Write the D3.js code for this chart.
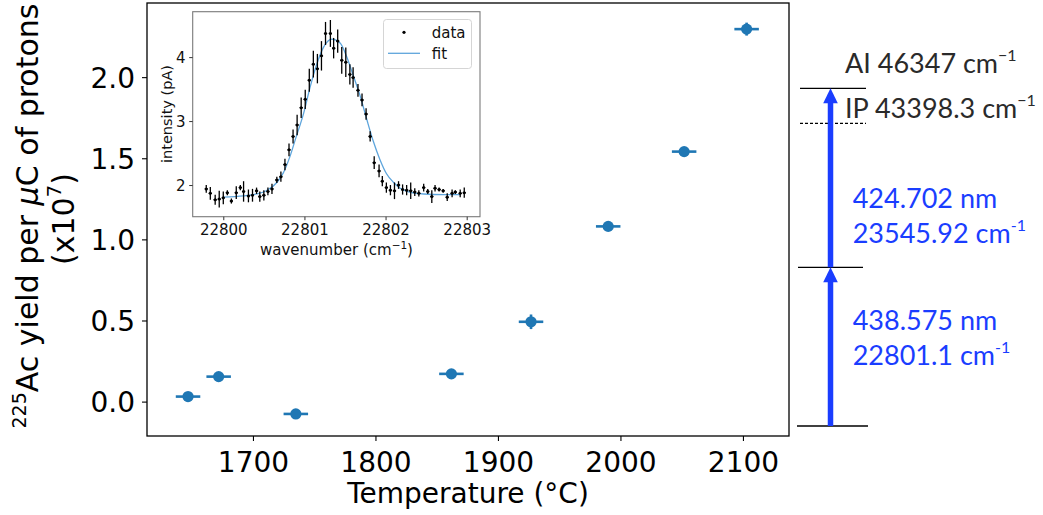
<!DOCTYPE html>
<html><head><meta charset="utf-8">
<script src="https://cdn.jsdelivr.net/npm/d3@7"></script>
<style>body{margin:0;background:#fff} svg{display:block}</style>
</head><body><svg id="c" width="1043" height="515"></svg>
<script>
// ---------- main plot data ----------
const tempC     = [1647, 1672, 1735, 1862, 1927, 1990, 2052, 2103];
const yieldVal  = [0.031, 0.154, -0.076, 0.171, 0.492, 1.080, 1.541, 2.296];
const tempErr   = [10, 10, 10, 10, 10, 10, 10, 10];
const yieldErr  = [0.01, 0.01, 0.01, 0.015, 0.045, 0.02, 0.02, 0.04];
const xTicks = [1700, 1800, 1900, 2000, 2100];
const yTicks = [0.0, 0.5, 1.0, 1.5, 2.0];

// ---------- inset data ----------
const wnData  = [22799.79,22799.84,22799.90,22799.95,22800.00,22800.05,22800.10,22800.16,22800.21,22800.25,
                 22800.31,22800.36,22800.41,22800.45,22800.50,22800.55,22800.60,22800.66,22800.71,22800.76,
                 22800.81,22800.86,22800.91,22800.96,22801.01,22801.06,22801.11,22801.16,22801.21,22801.26,
                 22801.32,22801.36,22801.41,22801.46,22801.51,22801.56,22801.60,22801.66,22801.71,22801.76,
                 22801.81,22801.86,22801.92,22801.96,22802.01,22802.06,22802.11,22802.16,22802.21,22802.26,
                 22802.31,22802.36,22802.41,22802.47,22802.52,22802.57,22802.61,22802.66,22802.71,22802.76,
                 22802.82,22802.86,22802.92,22802.97];
const intData = [1.94,1.87,1.77,1.78,1.80,1.88,1.75,1.88,1.96,1.90,
                 1.83,1.84,1.91,1.82,1.84,1.90,1.94,2.08,2.13,2.32,
                 2.55,2.76,2.94,3.21,3.34,3.64,3.89,3.82,4.02,4.37,
                 4.37,4.14,4.25,3.95,3.92,3.73,3.68,3.48,3.33,3.11,
                 2.76,2.35,2.22,2.06,1.96,1.92,1.91,2.00,1.93,1.92,
                 1.91,1.89,1.87,1.96,1.90,1.82,1.95,1.93,1.91,1.81,
                 1.87,1.89,1.87,1.88];
const intErr  = [0.06,0.10,0.08,0.13,0.10,0.04,0.04,0.10,0.04,0.16,
                 0.10,0.10,0.05,0.08,0.08,0.06,0.08,0.05,0.08,0.09,
                 0.10,0.11,0.16,0.16,0.15,0.18,0.21,0.23,0.23,0.18,
                 0.21,0.16,0.18,0.21,0.23,0.16,0.16,0.10,0.10,0.09,
                 0.08,0.10,0.10,0.08,0.08,0.08,0.13,0.06,0.08,0.08,
                 0.13,0.06,0.05,0.06,0.04,0.10,0.05,0.03,0.03,0.06,
                 0.06,0.03,0.06,0.08];
const wnErr = 0.02;
const fitWn  = [22800.00,22800.25,22800.41,22800.53,22800.66,22800.74,22800.82,22800.90,22800.99,22801.07,
                22801.15,22801.23,22801.34,22801.44,22801.52,22801.60,22801.69,22801.77,22801.85,22801.93,
                22802.01,22802.10,22802.18,22802.30,22802.47,22802.71,22802.93];
const fitInt = [1.81,1.83,1.86,1.91,2.04,2.19,2.44,2.76,3.12,3.53,
                3.88,4.14,4.28,4.22,4.01,3.72,3.38,3.02,2.68,2.40,
                2.18,2.04,1.95,1.89,1.86,1.85,1.85];
const ixTicks = [22800, 22801, 22802, 22803];
const iyTicks = [2, 3, 4];

// ---------- level diagram data ----------
const levelEnergy = [0, 22801.1, 46347];
const ipEnergy = 43398.3;

const svg = d3.select("#c");
const FONT = "'DejaVu Sans', sans-serif";

// ---------- main plot ----------
const x = d3.scaleLinear().domain([1613.5, 2137.6]).range([147, 789]);
const y = d3.scaleLinear().domain([-0.212, 2.457]).range([436, 3]);

const gx = svg.append("g").attr("transform", "translate(0,436)")
  .call(d3.axisBottom(x).tickValues(xTicks).tickSize(5).tickFormat(d3.format("d")));
gx.select(".domain").remove();
gx.selectAll("line").attr("stroke", "#000").attr("stroke-width", 1.1);
gx.selectAll("text").attr("dy", null).attr("y", 35.7)
  .attr("font-family", FONT).attr("font-size", 28).attr("fill", "#000");

const gy = svg.append("g").attr("transform", "translate(147,0)")
  .call(d3.axisLeft(y).tickValues(yTicks).tickSize(5).tickFormat(d3.format(".1f")));
gy.select(".domain").remove();
gy.selectAll("line").attr("stroke", "#000").attr("stroke-width", 1.1);
gy.selectAll("text").attr("x", -12).attr("dy", "0.36em")
  .attr("font-family", FONT).attr("font-size", 28).attr("fill", "#000");

svg.append("rect").attr("x", 147).attr("y", 3).attr("width", 642).attr("height", 433)
  .attr("fill", "none").attr("stroke", "#000").attr("stroke-width", 1.3);

const pts = tempC.map((t, i) => ({t, v: yieldVal[i], et: tempErr[i], ev: yieldErr[i]}));
const C0 = "#1f77b4";
const gp = svg.append("g");
gp.selectAll(".xe").data(pts).join("line")
  .attr("x1", d => x(d.t - d.et)).attr("x2", d => x(d.t + d.et))
  .attr("y1", d => y(d.v)).attr("y2", d => y(d.v))
  .attr("stroke", C0).attr("stroke-width", 2.6);
gp.selectAll(".ye").data(pts).join("line")
  .attr("x1", d => x(d.t)).attr("x2", d => x(d.t))
  .attr("y1", d => y(d.v - d.ev)).attr("y2", d => y(d.v + d.ev))
  .attr("stroke", C0).attr("stroke-width", 2.6);
gp.selectAll("circle").data(pts).join("circle")
  .attr("cx", d => x(d.t)).attr("cy", d => y(d.v)).attr("r", 5.6).attr("fill", C0);

// axis labels
svg.append("text").attr("x", 468).attr("y", 503).attr("text-anchor", "middle")
  .attr("font-family", FONT).attr("font-size", 28).attr("fill", "#000")
  .text("Temperature (°C)");

const yl1 = svg.append("text").attr("transform", "translate(37.5,216) rotate(-90)")
  .attr("text-anchor", "middle").attr("font-family", FONT).attr("font-size", 30).attr("fill", "#000");
yl1.append("tspan").attr("font-size", 19).attr("dy", -12).text("225");
yl1.append("tspan").attr("dy", 12).text("Ac yield per ");
yl1.append("tspan").attr("font-style", "italic").text("μ");
yl1.append("tspan").text("C of protons");
const yl2 = svg.append("text").attr("transform", "translate(74,219) rotate(-90)")
  .attr("text-anchor", "middle").attr("font-family", FONT).attr("font-size", 30).attr("fill", "#000");
yl2.append("tspan").text("(x10");
yl2.append("tspan").attr("font-size", 20).attr("dy", -13).text("7");
yl2.append("tspan").attr("dy", 13).text(")");

// ---------- inset ----------
const ix = d3.scaleLinear().domain([22799.623, 22803.164]).range([192.7, 480]);
const iy = d3.scaleLinear().domain([1.505, 4.71]).range([216.7, 11.7]);

svg.append("rect").attr("x", 192.7).attr("y", 11.7).attr("width", 287.3).attr("height", 205)
  .attr("fill", "#fff").attr("stroke", "#7a7a7a").attr("stroke-width", 1.1);

const igx = svg.append("g").attr("transform", "translate(0,216.7)")
  .call(d3.axisBottom(ix).tickValues(ixTicks).tickSize(3.5).tickFormat(d3.format("d")));
igx.select(".domain").remove();
igx.selectAll("line").attr("stroke", "#333");
igx.selectAll("text").attr("dy", null).attr("y", 18)
  .attr("font-family", FONT).attr("font-size", 15).attr("fill", "#111");
const igy = svg.append("g").attr("transform", "translate(192.7,0)")
  .call(d3.axisLeft(iy).tickValues(iyTicks).tickSize(3.5).tickFormat(d3.format("d")));
igy.select(".domain").remove();
igy.selectAll("line").attr("stroke", "#333");
igy.selectAll("text").attr("x", -7.2).attr("dy", "0.36em")
  .attr("font-family", FONT).attr("font-size", 15).attr("fill", "#111");

svg.append("text").attr("x", 336.5).attr("y", 254.5).attr("text-anchor", "middle")
  .attr("font-family", FONT).attr("font-size", 15).attr("fill", "#111")
  .call(t => { t.append("tspan").text("wavenumber (cm");
               t.append("tspan").attr("font-size", 10.5).attr("dy", -6).text("−1");
               t.append("tspan").attr("dy", 6).text(")"); });
svg.append("text").attr("transform", "translate(171.5,114) rotate(-90)").attr("text-anchor", "middle")
  .attr("font-family", FONT).attr("font-size", 14.5).attr("fill", "#111").text("intensity (pA)");

const fitLine = d3.line().x((d, i) => ix(fitWn[i])).y(d => iy(d)).curve(d3.curveMonotoneX);
svg.append("path").attr("d", fitLine(fitInt)).attr("fill", "none")
  .attr("stroke", "#5ea5dc").attr("stroke-width", 1.3);

const ipts = wnData.map((w, i) => ({w, v: intData[i], e: intErr[i]}));
const gi = svg.append("g");
gi.selectAll(".ie").data(ipts).join("line")
  .attr("x1", d => ix(d.w)).attr("x2", d => ix(d.w))
  .attr("y1", d => iy(d.v - d.e)).attr("y2", d => iy(d.v + d.e))
  .attr("stroke", "#000").attr("stroke-width", 1.3);
gi.selectAll(".ixe").data(ipts).join("line")
  .attr("x1", d => ix(d.w - wnErr)).attr("x2", d => ix(d.w + wnErr))
  .attr("y1", d => iy(d.v)).attr("y2", d => iy(d.v))
  .attr("stroke", "#000").attr("stroke-width", 1.3);
gi.selectAll("circle").data(ipts).join("circle")
  .attr("cx", d => ix(d.w)).attr("cy", d => iy(d.v)).attr("r", 1.5).attr("fill", "#000");

// legend
svg.append("rect").attr("x", 383.5).attr("y", 19.5).attr("width", 88).attr("height", 49).attr("rx", 3)
  .attr("fill", "#fff").attr("fill-opacity", 0.8).attr("stroke", "#d5d5d5").attr("stroke-width", 1);
svg.append("circle").attr("cx", 404).attr("cy", 32.3).attr("r", 1.6).attr("fill", "#000");
svg.append("line").attr("x1", 388).attr("x2", 420).attr("y1", 53.3).attr("y2", 53.3)
  .attr("stroke", "#5ea5dc").attr("stroke-width", 1.3);
svg.append("text").attr("x", 431.7).attr("y", 37.5).attr("font-family", FONT).attr("font-size", 15)
  .attr("fill", "#111").text("data");
svg.append("text").attr("x", 431.7).attr("y", 58.7).attr("font-family", FONT).attr("font-size", 15)
  .attr("fill", "#111").text("fit");

// ---------- level diagram ----------
const ey = d3.scaleLinear().domain([0, 22801.1, 43398.3, 46347]).range([426, 267.3, 123.3, 88.3]);
const BLUE = "#1a3dff";
const DARK = "#2a2a2a";
const LF = "Lato, 'Open Sans', sans-serif";

const lvX = [[797, 868], [798, 863], [800, 866]];
levelEnergy.forEach((e, i) => {
  svg.append("line").attr("x1", lvX[i][0]).attr("x2", lvX[i][1]).attr("y1", ey(e)).attr("y2", ey(e))
    .attr("stroke", "#000").attr("stroke-width", 1.3);
});
svg.append("line").attr("x1", 800).attr("x2", 866).attr("y1", ey(ipEnergy)).attr("y2", ey(ipEnergy))
  .attr("stroke", "#000").attr("stroke-width", 1.2).attr("stroke-dasharray", "3,2");

const AX = 830.5;
function arrow(e0, e1) {
  const y0 = ey(e0), y1 = ey(e1);
  svg.append("line").attr("x1", AX).attr("x2", AX).attr("y1", y0).attr("y2", y1 + 12)
    .attr("stroke", BLUE).attr("stroke-width", 5.5);
  svg.append("path").attr("d", `M${AX},${y1} L${AX - 7.3},${y1 + 15} L${AX + 7.3},${y1 + 15} Z`)
    .attr("fill", BLUE);
}
arrow(levelEnergy[0], levelEnergy[1]);
arrow(levelEnergy[1], levelEnergy[2]);

function label(xp, yp, main, sup, color) {
  const t = svg.append("text").attr("x", xp).attr("y", yp).attr("font-family", LF)
    .attr("font-size", 27).attr("fill", color);
  t.append("tspan").text(main);
  t.append("tspan").attr("font-size", 16).attr("dy", -12).text(sup);
}
label(845, ey(levelEnergy[2]) - 15, "AI 46347 cm", "−1", DARK);
label(845, ey(ipEnergy) - 5, "IP 43398.3 cm", "−1", DARK);
label(852.7, 208, "424.702 nm", "", BLUE);
label(852.7, 243.3, "23545.92 cm", "-1", BLUE);
label(852.7, 330, "438.575 nm", "", BLUE);
label(852.7, 365, "22801.1 cm", "-1", BLUE);
</script></body></html>
